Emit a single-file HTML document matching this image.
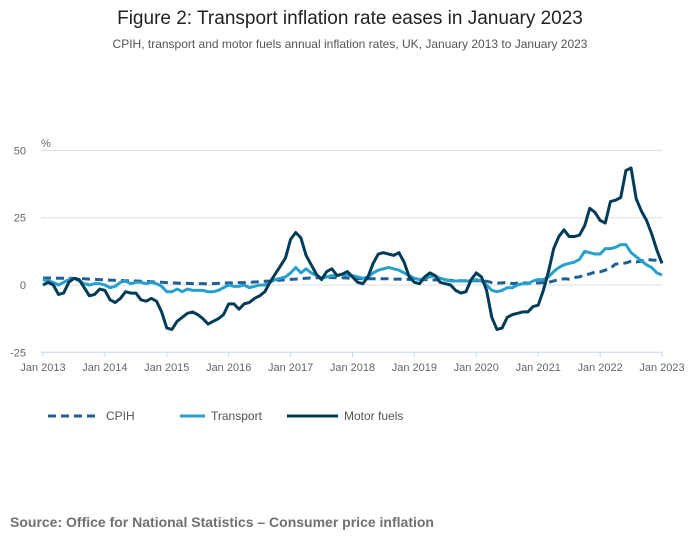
<!DOCTYPE html>
<html><head><meta charset="utf-8"><style>
body{margin:0;background:#fff;font-family:"Liberation Sans",sans-serif;}
svg text{font-family:"Liberation Sans",sans-serif;}
</style></head><body>
<svg width="700" height="549">
<text x="350" y="24" text-anchor="middle" font-size="19" fill="#222">Figure 2: Transport inflation rate eases in January 2023</text>
<text x="350" y="48" text-anchor="middle" font-size="12" fill="#555">CPIH, transport and motor fuels annual inflation rates, UK, January 2013 to January 2023</text>
<g id="grid"></g><g id="series"></g>
<g>
<line x1="48" y1="416" x2="100" y2="416" stroke="#206095" stroke-width="3" stroke-dasharray="8,5"/>
<text x="106" y="420" font-size="12" fill="#555">CPIH</text>
<line x1="180" y1="416" x2="205" y2="416" stroke="#27a0cc" stroke-width="3"/>
<text x="211" y="420" font-size="12" fill="#555">Transport</text>
<line x1="287" y1="416" x2="338" y2="416" stroke="#003c57" stroke-width="3"/>
<text x="344" y="420" font-size="12" fill="#555">Motor fuels</text>
</g>
<text x="10" y="527" font-size="14" font-weight="bold" fill="#707070">Source: Office for National Statistics – Consumer price inflation</text>
</svg>
<script>
const yTicks=[50,25,0,-25];
const xLabels=["Jan 2013","Jan 2014","Jan 2015","Jan 2016","Jan 2017","Jan 2018","Jan 2019","Jan 2020","Jan 2021","Jan 2022","Jan 2023"];
const motorFuels=[0,1,0,-3.5,-3,1,2.5,2,-1,-4,-3.5,-1.5,
-2,-5.5,-6.5,-5,-2.5,-3,-3,-5.5,-6,-5,-6,-10,
-16,-16.5,-13.5,-12,-10.5,-10,-11,-12.5,-14.5,-13.5,-12.5,-11,
-7,-7,-9,-7,-6.5,-5,-4,-2.5,1,4,7,10,
17,19.5,17.5,11,7.5,4,2,5,6,3.5,4,5,
3,1,0.5,3,8,11.5,12,11.5,11,12,8.5,3,
1,0.5,3,4.5,3.5,1,0.5,0,-2,-3,-2.5,2,
4.5,3,-2,-12,-16.5,-16,-12,-11,-10.5,-10,-10,-8,
-7.5,-2,5,13.5,18,20.5,18,18,18.5,22,28.5,27,
24,23,31,31.5,32.5,42.5,43.5,32,27.5,24,19,13,8];
const transport=[2,1.5,1,0,1,2,2.5,1.5,0.5,0,0.5,0.5,
0,-1,-0.5,1,1.5,0.5,1,1,0.5,1,0.5,-0.5,
-2.5,-2.5,-1.5,-2.5,-1.5,-2,-2,-2,-2.5,-2.5,-2,-1,
0,-0.5,-0.5,0,-1,-0.5,0,0,1,2,2.5,3,
4.5,6.5,4.5,6,4.5,3.5,2.5,3,3.5,3.5,4,3.5,
3.5,3,2.5,3,4.5,5.5,6,6.5,6,5.5,4.5,3.5,
2.5,2,2.5,3,3.5,2.5,2,1.5,1.5,1.5,1.5,1.5,
2,1.5,0,-2,-2.5,-2,-1,-1,0,0.5,0.5,1.5,
2,2,3,5,6.5,7.5,8,8.5,9.5,12.5,12,11.5,
11.5,13.5,13.5,14,15,15,12,10.5,9,7.5,6.5,4.5,3.7];
const cpih=[2.6,2.6,2.6,2.5,2.5,2.5,2.4,2.4,2.3,2.2,2.1,2.0,
1.9,1.8,1.7,1.7,1.6,1.6,1.5,1.4,1.3,1.2,1.1,1.0,
0.9,0.8,0.7,0.6,0.6,0.5,0.5,0.5,0.4,0.5,0.6,0.7,
0.8,0.8,0.9,0.9,1.0,1.1,1.2,1.4,1.5,1.7,1.8,1.9,
2.1,2.2,2.4,2.5,2.6,2.7,2.7,2.8,2.8,2.7,2.7,2.6,
2.5,2.4,2.3,2.3,2.3,2.3,2.3,2.3,2.2,2.2,2.1,2.1,
2.0,2.0,2.0,1.9,1.9,1.8,1.8,1.7,1.7,1.6,1.6,1.6,
1.6,1.5,1.4,0.9,0.7,0.8,1.0,0.5,0.7,0.8,0.7,0.8,
0.8,0.9,1.0,1.5,2.0,2.3,2.2,2.8,3.0,3.8,4.1,4.8,
4.9,5.5,6.2,7.8,7.9,8.2,8.8,8.6,8.8,9.6,9.3,9.2,9.2];
const X0=43,X1=662,Y0=285,PPU=67.3/25;
const xs=i=>X0+(X1-X0)*i/120, ys=v=>Y0-v*PPU;
const NS="http://www.w3.org/2000/svg";
const grid=document.getElementById('grid'),ser=document.getElementById('series');
function mk(tag,at,parent){const e=document.createElementNS(NS,tag);for(const k in at)e.setAttribute(k,at[k]);parent.appendChild(e);return e;}
yTicks.forEach(v=>{
const l=mk('line',{x1:41,x2:X1,y1:ys(v),y2:ys(v),stroke:v===-25?'#c8d8ec':'#ddd','stroke-width':1},grid);


const t=mk('text',{x:26,y:ys(v)+4,'font-size':11,fill:'#666','text-anchor':'end'},grid);t.textContent=v;


});
const pct=mk('text',{x:41,y:147,'font-size':11,fill:'#666'},grid);pct.textContent='%';


xLabels.forEach((s,k)=>{
const x=xs(k*12);
mk('line',{x1:x,x2:x,y1:352,y2:357,stroke:'#c8d8ec'},grid);
const t=mk('text',{x:x,y:371,'font-size':11,fill:'#666','text-anchor':'middle'},grid);t.textContent=s;


});
function line(arr,color,dash,name){
const p=mk('polyline',{points:arr.map((v,i)=>xs(i)+','+ys(v)).join(' '),fill:'none',stroke:color,'stroke-width':3,'stroke-linejoin':'round'},ser);
if(dash)p.setAttribute('stroke-dasharray',dash);


}
line(cpih,'#206095','8,5','cpih-line');
line(transport,'#27a0cc',null,'transport-line');
line(motorFuels,'#003c57',null,'motor-fuels-line');
</script>
</body></html>
